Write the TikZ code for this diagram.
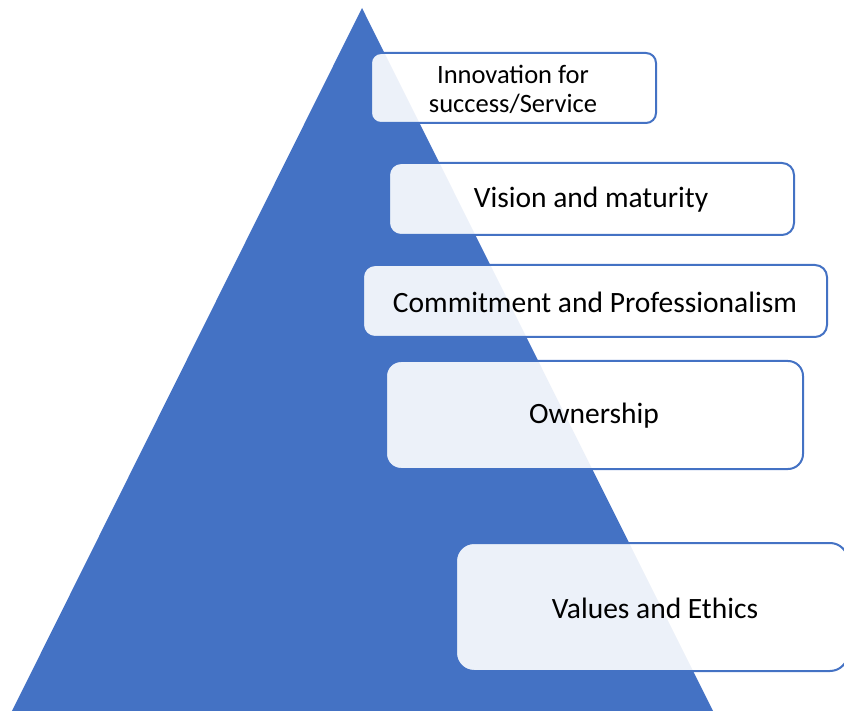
\documentclass[tikz,border=0pt]{standalone}
\usepackage{fontspec}
\setmainfont{Carlito}
\begin{document}
\begin{tikzpicture}[x=1pt,y=-1pt,
  tier/.style={draw=accent, line width=2pt, fill=white, fill opacity=0.9,
    text opacity=1, rounded corners=#1, inner sep=0pt},
  tier/.default=12pt,
  label/.style={font=\fontsize{29.5}{32}\selectfont, align=center, text=black}]
\definecolor{accent}{HTML}{4472C4}
\useasboundingbox (0,0) rectangle (844,711);
\clip (0,0) rectangle (844,711);
% pyramid
\fill[accent] (362,8) -- (714,713) -- (11,713) -- cycle;
% tiers
\draw[tier=10pt] (371,53) rectangle (656,123);
\draw[tier] (389,163) rectangle (794,235);
\draw[tier] (363,265) rectangle (827,337);
\draw[tier=15pt] (386,361) rectangle (803,469);
\draw[tier=18pt] (456,543) rectangle (848,671);
% labels
\node[label, font=\fontsize{26.5}{29}\selectfont] (t1) at (513,89) {Innovation for\\success/Service};
\node[label] (t2) at (591,200) {Vision and maturity};
\node[label] (t3) at (595,302) {Commitment and Professionalism};
\node[label] (t4) at (594,416) {Ownership};
\node[label] (t5) at (655,608) {Values and Ethics};
\end{tikzpicture}
\end{document}
